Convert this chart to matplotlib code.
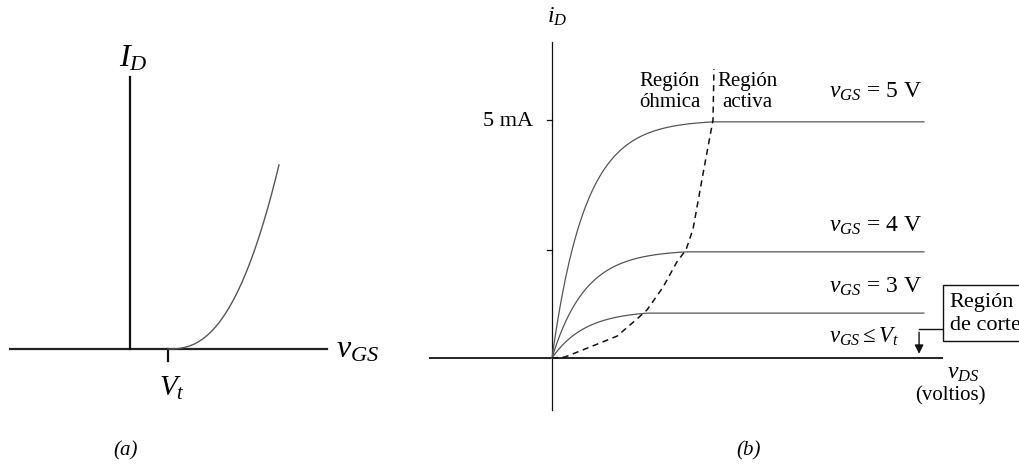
import matplotlib.pyplot as plt
import numpy as np

plt.rcParams['font.family'] = 'Liberation Serif'
plt.rcParams['mathtext.fontset'] = 'custom'
plt.rcParams['mathtext.rm'] = 'Liberation Serif'
plt.rcParams['mathtext.it'] = 'Liberation Serif:italic'

# (a) transfer characteristic: i_D = K (v_GS - V_t)^n
vt = 1.0
k_a = 1.0
n_a = 2.5
vgs_max = 3.92

# (b) output characteristics
vgs_labels = ["$v_{GS}$ = 5 V", "$v_{GS}$ = 4 V", "$v_{GS}$ = 3 V"]
i_sat = [5.0, 2.27, 1.0]          # mA
v_knee = [5.0, 4.16, 2.95]        # V, where each curve flattens
label_y = [5.48, 2.67, 1.39]
v_end = 11.55
tau = 1.03                        # shape of the ohmic-region rise

# ohmic / active boundary (dashed)
bound_v = [0, 0.40, 1.18, 2.02, 2.64, 2.95, 3.45, 3.88, 4.16, 4.38, 4.69, 5.0, 5.03]
bound_i = [0, 0.02, 0.23, 0.46, 0.82, 1.01, 1.49, 2.02, 2.27, 2.71, 3.87, 5.0, 6.07]

fig = plt.figure(figsize=(10.2, 4.77), dpi=100)

# ---- panel (a) ----
axa = fig.add_axes([0, 0, 1, 1])
axa.set_xlim(-130 / 38, (1020 - 130) / 38)
axa.set_ylim(-127 / 12.63, 350 / 12.63)
axa.axis('off')

axa.plot([-3.16, 5.18], [0, 0], color='#222222', lw=1.6)
axa.plot([0, 0], [0, 21.5], color='#111111', lw=1.6)
axa.plot([vt, vt], [0, -0.95], color='#111111', lw=1.6)

va = np.linspace(vt, vgs_max, 200)
axa.plot(va, k_a * (va - vt) ** n_a, color='#555555', lw=1.0)

axa.text(0.08, 21.9, "$I_D$", fontsize=23, ha='center', va='bottom')
axa.text(5.42, 0, "$v_{GS}$", fontsize=23, ha='left', va='center')
axa.text(vt + 0.1, -1.98, "$V_t$", fontsize=21, ha='center', va='top')
axa.text(-0.13, -8.0, "(a)", fontsize=15, ha='center', va='center', style='italic')

# ---- panel (b) ----
axb = fig.add_axes([0, 0, 1, 1])
axb.patch.set_alpha(0)
axb.set_xlim(-552 / 32.2, (1020 - 552) / 32.2)
axb.set_ylim(-(477 - 359) / 47.6, 359 / 47.6)
axb.axis('off')

axb.plot([-3.79, 12.1], [0, 0], color='#222222', lw=1.4)
axb.plot([0, 0], [-1.1, 6.64], color='#111111', lw=0.9)
for lvl in i_sat[:2]:
    axb.plot([-0.17, 0], [lvl, lvl], color='#111111', lw=0.9)

for isat, vk, lab, ly in zip(i_sat, v_knee, vgs_labels, label_y):
    v = np.linspace(0, v_end, 400)
    i = np.where(v < vk, isat * (1 - np.exp(-v / tau)), isat * (1 - np.exp(-vk / tau)))
    axb.plot(v, i, color='#555555', lw=0.9)
    axb.text(8.6, ly, lab, fontsize=17, ha='left', va='baseline')

axb.plot(bound_v, bound_i, color='#111111', lw=1.1, ls=(0, (4, 3)))

axb.text(-0.6, 5.0, "5 mA", fontsize=16, ha='right', va='center')
axb.text(0.15, 6.95, "$i_D$", fontsize=17, ha='center', va='bottom')
axb.text(3.66, 5.61, "Región\nóhmica", fontsize=15, ha='center', va='center', linespacing=1.1)
axb.text(6.08, 5.61, "Región\nactiva", fontsize=15, ha='center', va='center', linespacing=1.1)
axb.text(8.6, 0.34, "$v_{GS} \\leq V_t$", fontsize=16.5, ha='left', va='baseline')

# cutoff-region callout, runs off the right edge
axb.text(12.35, 0.95, "Región\nde corte", fontsize=16, ha='left', va='center', linespacing=1.3,
         bbox=dict(boxstyle='square,pad=0.3', fc='white', ec='#111111', lw=1.0))
axb.annotate("", xy=(11.4, 0.03), xytext=(11.4, 0.6),
             arrowprops=dict(arrowstyle='-|>', color='#111111', lw=1.0, mutation_scale=13))
axb.plot([11.4, 12.1], [0.6, 0.6], color='#111111', lw=1.0)

axb.text(12.27, -0.08, "$v_{DS}$", fontsize=17, ha='left', va='top')
axb.text(11.27, -0.57, "(voltios)", fontsize=15, ha='left', va='top')
axb.text(6.1, -1.92, "(b)", fontsize=15, ha='center', va='center', style='italic')

fig.savefig("out.png", dpi=100)
